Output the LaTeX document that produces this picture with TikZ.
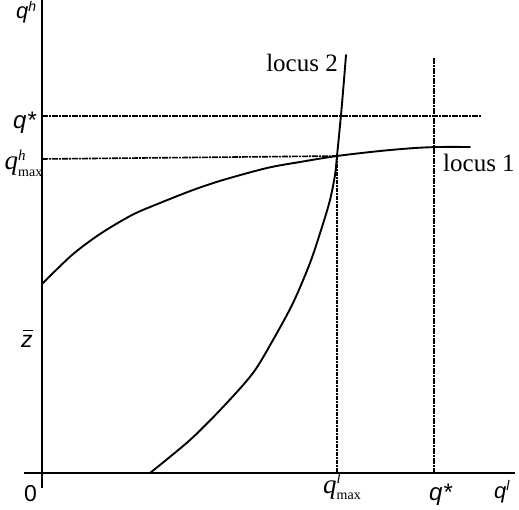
\documentclass[tikz,border=0pt]{standalone}
\usepackage{fontspec}
\setmainfont{Liberation Serif}
\setsansfont{Liberation Sans}
\begin{document}
\begin{tikzpicture}[x=1pt,y=-1pt,
  axis/.style={line width=2.2pt},
  curve/.style={line width=1.9pt, line join=round, line cap=round},
  guide/.style={line width=1.6pt, dash pattern=on 6pt off 1pt on 2pt off 1pt},
  guidethick/.style={line width=2.4pt, dash pattern=on 4pt off 1pt on 2pt off 1pt},
  lbl/.style={inner sep=0pt, font=\fontsize{25}{25}\selectfont},
  slbl/.style={inner sep=0pt, font=\fontsize{24}{24}\selectfont\sffamily\itshape}]
\useasboundingbox (0,0) rectangle (519,510);
% axes
\coordinate (ytop) at (42,0);
\coordinate (ybot) at (42,488);
\coordinate (xl) at (24,473);
\coordinate (xr) at (515,473);
\draw[axis] (ytop) -- (ybot);
\draw[axis] (xl) -- (xr);
% guide lines
\coordinate (qsL) at (42,116);
\coordinate (qsR) at (481,116);
\coordinate (qsT) at (434,58);
\coordinate (qsB) at (434,473);
\coordinate (X) at (337,156);
\coordinate (hmL) at (42,159);
\coordinate (lmB) at (337,473);
\draw[guide] (qsL) -- (qsR);
\draw[guide] (qsT) -- (qsB);
\draw[guide] (hmL) -- (X);
\draw[guidethick] (X) -- (lmB);
% locus 1
\draw[curve] plot[smooth] coordinates {(42,284) (72,255) (100,234) (132,215) (160,203) (193,190) (223,180) (267,168) (300,162) (337,156) (380,151) (415,148) (440,147) (470,147)};
% locus 2
\draw[curve] plot[smooth] coordinates {(150,473) (190,440) (223,407) (253,373) (273,340) (293,303) (310,263) (322,227) (330,200) (335,175) (337,156) (341,115) (344,80) (346,55)};
% labels
\node[lbl, anchor=base east] (l2) at (338,72) {locus 2};
\node[lbl, anchor=base west] (l1) at (443,172) {locus 1};
\node[inner sep=0pt, anchor=base west, font=\fontsize{22}{22}\selectfont\sffamily\itshape] (qh) at (16,19) {$\mbox{q}^{\mbox{\fontsize{14}{14}\selectfont h}}$};
\node[slbl, anchor=base west] (qsl) at (13,129) {q*};
\node[inner sep=0pt, anchor=base east, font=\fontsize{27}{27}\selectfont\itshape] (qhm) at (43,170) {$\mbox{q}^{\mbox{\fontsize{15}{15}\selectfont h}}_{\mbox{\fontsize{14}{14}\selectfont\upshape max}}$};
\node[inner sep=0pt, anchor=base west, font=\fontsize{23}{23}\selectfont\sffamily\itshape] (zb) at (21,348) {\rlap{\kern1.5pt\rule[17pt]{10pt}{1.3pt}}z};
\node[inner sep=0pt, anchor=base west, font=\fontsize{23}{23}\selectfont\sffamily] (zero) at (24,501) {0};
\node[inner sep=0pt, anchor=base west, font=\fontsize{27}{27}\selectfont\itshape] (qlm) at (323,493) {$\mbox{q}^{\mbox{\fontsize{15}{15}\selectfont l}}_{\mbox{\fontsize{14}{14}\selectfont\upshape max}}$};
\node[slbl, anchor=base west] (qsb) at (429,500) {q*};
\node[inner sep=0pt, anchor=base west, font=\fontsize{22}{22}\selectfont\sffamily\itshape] (ql) at (494,498) {$\mbox{q}^{\mbox{\fontsize{14}{14}\selectfont l}}$};
\end{tikzpicture}
\end{document}
